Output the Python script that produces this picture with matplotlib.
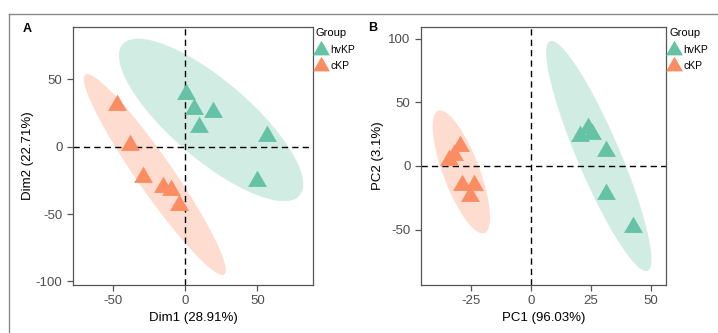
import numpy as np
import matplotlib.pyplot as plt
from matplotlib.lines import Line2D

plt.rcParams['font.family'] = ['Liberation Sans', 'DejaVu Sans']
plt.rcParams['axes.unicode_minus'] = False

groups = ["hvKP", "cKP"]
colors = ["#66C2A5", "#FC8D62"]

# panel A (Dim1 / Dim2)
a_hv_x = [0.5, 6.0, 19.4, 9.7, 57.0, 50.0]
a_hv_y = [39.0, 28.0, 26.0, 14.5, 8.0, -25.5]
a_ck_x = [-47.6, -38.4, -29.2, -15.3, -10.2, -4.2]
a_ck_y = [31.0, 1.5, -22.5, -30.0, -32.5, -43.5]

# panel B (PC1 / PC2)
b_hv_x = [20.5, 24.0, 25.5, 31.5, 31.5, 42.5]
b_hv_y = [23.5, 30.0, 25.0, 12.0, -22.0, -48.0]
b_ck_x = [-29.5, -32.0, -34.0, -28.8, -23.5, -25.5]
b_ck_y = [15.5, 9.0, 4.5, -15.0, -15.0, -23.5]

a_xticks = [-50, 0, 50]
a_yticks = [-100, -50, 0, 50]
b_xticks = [-25, 0, 25, 50]
b_yticks = [-50, 0, 50, 100]


def cov_trob(x, nu=5, maxit=25, tol=0.01):
    # like MASS::cov.trob, used by ggplot2 stat_ellipse
    n, p = x.shape
    loc = x.mean(axis=0)
    w = np.ones(n)
    for it in range(maxit):
        w0 = w
        X = x - loc
        S = (X * w[:, None]).T @ X / w.sum()
        Q = np.einsum('ij,jk,ik->i', X, np.linalg.inv(S), X)
        w = (nu + p) / (nu + Q)
        loc = (w[:, None] * x).sum(axis=0) / w.sum()
        if np.all(np.abs(w - w0) < tol):
            break
    cov = (X * w[:, None]).T @ X / n
    return loc, cov


def ellipse(xs, ys, level=0.95, seg=120):
    pts = np.column_stack([xs, ys])
    n = len(pts)
    loc, cov = cov_trob(pts)
    dfd = n - 1
    qf = dfd / 2 * ((1 - level) ** (-2 / dfd) - 1)
    radius = np.sqrt(2 * qf)
    R = np.linalg.cholesky(cov).T
    t = np.linspace(0, 2 * np.pi, seg + 1)
    circ = np.column_stack([np.cos(t), np.sin(t)])
    e = loc + radius * (circ @ R)
    return e[:, 0], e[:, 1]


tri = [(0, 1), (-0.866, -0.5), (0.866, -0.5)]

W, H = 718, 333
fig = plt.figure(figsize=(W / 100, H / 100), dpi=100)

# outer frame lines
fig.add_artist(Line2D([9 / W, 1], [1 - 14 / H, 1 - 14 / H], transform=fig.transFigure, color="#8a8a8a", lw=1.0))
fig.add_artist(Line2D([9 / W, 9 / W], [0, 1 - 14 / H], transform=fig.transFigure, color="#8a8a8a", lw=1.0))

panels = [
    dict(box=(73, 27, 313, 285), xlim=(-78, 88.7), ylim=(-102.7, 88.9),
         data=[(a_hv_x, a_hv_y), (a_ck_x, a_ck_y)], xticks=a_xticks, yticks=a_yticks,
         xlabel="Dim1 (28.91%)", ylabel="Dim2 (22.71%)", tag="A", tagpos=(27, 28.5), ylx=28),
    dict(box=(421, 27, 666, 285), xlim=(-45.8, 56.4), ylim=(-93.5, 109.2),
         data=[(b_hv_x, b_hv_y), (b_ck_x, b_ck_y)], xticks=b_xticks, yticks=b_yticks,
         xlabel="PC1 (96.03%)", ylabel="PC2 (3.1%)", tag="B", tagpos=(372.5, 28), ylx=378),
]

for p in panels:
    l, t, r, b = p["box"]
    ax = fig.add_axes([l / W, 1 - b / H, (r - l) / W, (b - t) / H])
    for (xs, ys), c in zip(p["data"], colors):
        ex, ey = ellipse(xs, ys)
        ax.fill(ex, ey, color=c, alpha=0.3, lw=0, zorder=1)
    ax.axhline(0, color="black", lw=1.0, ls=(0, (4.5, 3)), zorder=2)
    ax.axvline(0, color="black", lw=1.0, ls=(0, (4.5, 3)), zorder=2)
    for (xs, ys), c, g in zip(p["data"], colors, groups):
        ax.scatter(xs, ys, marker=tri, s=245, color=c, lw=0, zorder=3, label=g)
    ax.set_xlim(p["xlim"])
    ax.set_ylim(p["ylim"])
    ax.set_xticks(p["xticks"])
    ax.set_yticks(p["yticks"])
    for s in ax.spines.values():
        s.set_color("#555555")
        s.set_linewidth(0.9)
    ax.tick_params(length=4.5, width=0.9, color="#555555", labelcolor="#4d4d4d", labelsize=9.5, pad=3)
    ax.set_xlabel(p["xlabel"], fontsize=9.5)
    ax.set_ylabel(p["ylabel"], fontsize=9.5)
    ax.xaxis.set_label_coords(0.5, (b - 318) / (b - t))
    ax.xaxis.label.set_va("center")
    ax.yaxis.set_label_coords((p["ylx"] - l) / (r - l), 0.5)
    ax.yaxis.label.set_va("center")
    leg = ax.legend(title="Group", loc="upper left", bbox_to_anchor=(1 + 3 / (r - l), 1 - 1.5 / (b - t)),
                    frameon=False, fontsize=7.5, title_fontsize=8, borderpad=0,
                    handlelength=1.0, handletextpad=0.35, labelspacing=0.6, borderaxespad=0,
                    alignment="left", markerscale=0.9)
    fig.text(p["tagpos"][0] / W, 1 - p["tagpos"][1] / H, p["tag"], fontsize=9, fontweight="bold",
             ha="center", va="center")

fig.savefig("out.png", dpi=100)
